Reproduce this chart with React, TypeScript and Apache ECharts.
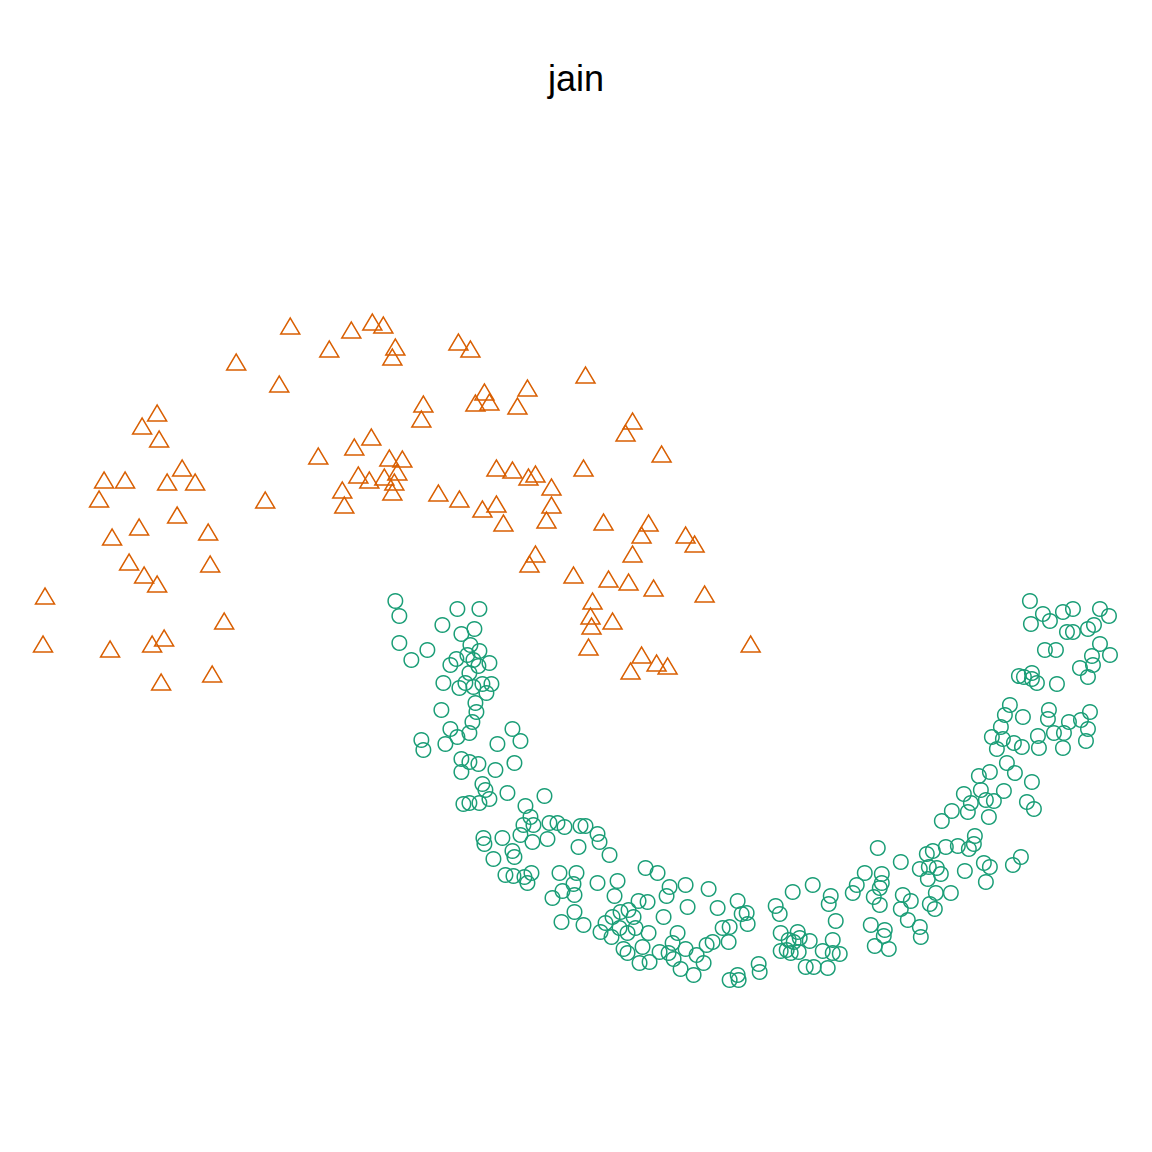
import React, { useEffect, useRef } from "react";
import * as echarts from "echarts";

const titleText = "jain";

// cluster 2 (triangles)
const cluster2: [number, number][] = [
  [29.0, 67.4], [23.6, 63.8], [27.9, 61.6], [15.7, 58.7], [14.2, 57.4], [15.9, 56.1], [18.2, 53.2],
  [10.4, 52.0], [12.5, 52.0], [16.7, 51.8], [19.5, 51.8], [9.9, 50.1], [26.5, 50.0], [17.7, 48.5],
  [13.9, 47.3], [11.2, 46.3], [20.8, 46.8], [31.8, 54.4], [32.9, 65.1], [35.1, 67.0], [37.2, 67.8],
  [38.3, 67.5], [39.5, 65.3], [39.2, 64.3], [45.8, 65.8], [47.0, 65.1], [58.5, 62.5], [48.4, 60.8],
  [52.7, 61.2], [47.5, 59.7], [48.9, 59.8], [51.7, 59.4], [42.3, 59.6], [42.1, 58.1], [37.1, 56.3],
  [35.4, 55.3], [38.9, 54.2], [40.2, 54.1], [35.8, 52.5], [36.9, 52.0], [38.4, 52.3], [39.7, 52.8],
  [39.4, 51.8], [39.2, 50.8], [34.2, 51.0], [34.4, 49.5], [43.8, 50.7], [45.9, 50.1], [48.2, 49.1],
  [49.6, 49.6], [50.3, 47.7], [49.6, 53.2], [51.2, 53.0], [52.8, 52.3], [53.5, 52.6], [55.1, 51.3],
  [55.1, 49.5], [54.6, 48.0], [58.3, 53.2], [63.2, 57.9], [62.5, 56.7], [66.1, 54.6], [60.3, 47.8],
  [64.8, 47.7], [64.1, 46.5], [68.5, 46.5], [69.4, 45.6], [63.2, 44.6], [60.8, 42.1], [62.8, 41.8],
  [65.3, 41.2], [70.4, 40.6], [57.3, 42.5], [59.2, 39.9], [59.0, 38.4], [59.1, 37.4], [61.2, 37.9],
  [58.8, 35.3], [64.1, 34.5], [65.6, 33.7], [66.7, 33.4], [63.0, 32.9], [75.0, 35.6], [12.9, 43.8],
  [14.4, 42.5], [15.7, 41.6], [21.0, 43.6], [4.5, 40.4], [22.4, 37.9], [4.3, 35.6], [11.0, 35.1],
  [15.2, 35.6], [16.4, 36.2], [21.2, 32.6], [16.1, 31.8], [53.5, 44.6], [52.9, 43.6],
];

// cluster 1 (circles)
const cluster1: [number, number][] = [
  [39.5, 39.9], [39.9, 38.4], [45.7, 39.1], [47.9, 39.1], [44.2, 37.5], [47.4, 37.1], [46.1, 36.6],
  [39.9, 35.7], [42.7, 35.0], [41.1, 34.0], [47.0, 35.5], [47.9, 34.9], [45.6, 34.1], [45.0, 33.5],
  [46.7, 34.5], [47.3, 34.0], [47.8, 33.4], [48.9, 33.7], [46.9, 32.7], [44.3, 31.7], [46.5, 31.7],
  [45.9, 31.2], [47.3, 31.3], [48.2, 31.6], [49.1, 31.6], [48.6, 30.7], [47.5, 29.7], [47.6, 28.8],
  [44.1, 29.0], [47.2, 27.8], [45.0, 27.1], [45.7, 26.3], [46.9, 26.7], [44.5, 25.6], [42.1, 26.0],
  [42.3, 25.0], [49.7, 25.6], [51.2, 27.1], [52.0, 25.9], [51.4, 23.7], [46.1, 24.1], [46.9, 23.8],
  [47.8, 23.6], [46.1, 22.8], [49.5, 23.0], [48.2, 21.6], [48.5, 21.0], [48.9, 20.1], [47.9, 19.7],
  [46.9, 19.7], [46.3, 19.6], [50.7, 20.7], [54.4, 20.4], [52.5, 19.4], [53.0, 18.3], [52.3, 17.5],
  [53.3, 17.5], [52.0, 16.5], [53.2, 15.8], [54.7, 16.1], [54.9, 17.7], [55.7, 17.7], [56.4, 17.3],
  [58.0, 17.4], [58.5, 17.4], [50.2, 16.2], [48.3, 16.2], [48.4, 15.6], [51.2, 14.9], [51.4, 14.3],
  [49.3, 14.1], [57.8, 15.3], [50.5, 12.5], [51.3, 12.4], [52.4, 12.3], [53.1, 12.7], [52.7, 11.7],
  [55.9, 12.7], [57.6, 12.7], [57.3, 11.6], [56.2, 10.9], [57.4, 10.5], [55.2, 10.2], [57.4, 8.8],
  [56.1, 7.8], [58.3, 7.5], [59.7, 16.6], [59.9, 15.8], [60.9, 14.5], [59.7, 11.7], [61.7, 11.9],
  [61.4, 10.4], [64.5, 13.2], [65.7, 12.7], [66.9, 11.3], [68.5, 11.5], [66.6, 10.4], [70.8, 11.1],
  [63.8, 9.9], [64.7, 9.8], [68.7, 9.3], [71.7, 9.2], [73.7, 9.9], [74.1, 8.6], [74.6, 8.7],
  [74.7, 7.6], [66.3, 8.3], [62.0, 8.8], [62.8, 9.0], [61.2, 8.3], [60.5, 7.7], [60.0, 6.8],
  [61.1, 6.3], [61.9, 7.2], [62.7, 6.7], [63.5, 7.2], [63.3, 8.3], [64.8, 6.7], [67.7, 6.7],
  [72.2, 7.2], [72.9, 7.3], [72.8, 5.8], [70.6, 5.5], [71.2, 5.8], [62.3, 5.1], [62.7, 4.7],
  [64.2, 5.3], [65.9, 4.8], [66.8, 4.7], [67.2, 5.7], [68.5, 5.1], [69.6, 4.5], [63.9, 3.7],
  [64.9, 3.8], [67.3, 4.1], [68.0, 3.1], [69.3, 2.5], [70.3, 3.7], [72.9, 2.0], [73.7, 2.5],
  [73.8, 2.0], [75.8, 3.6], [75.9, 2.8], [77.5, 9.4], [77.9, 8.6], [79.2, 10.8], [81.2, 11.5],
  [83.0, 10.4], [82.8, 9.6], [83.5, 7.9], [78.0, 6.7], [78.8, 6.0], [78.6, 5.0], [79.7, 6.8],
  [79.9, 6.2], [79.3, 5.8], [80.9, 5.9], [79.0, 4.7], [79.8, 4.8], [78.0, 4.9], [83.2, 6.0],
  [82.2, 4.9], [83.2, 4.7], [83.9, 4.6], [80.5, 3.3], [81.3, 3.3], [82.7, 3.2], [85.2, 10.7],
  [85.6, 11.5], [86.4, 12.7], [100.6, 23.7], [101.4, 22.7], [98.9, 22.8], [97.8, 22.4], [103.1, 21.8],
  [96.3, 20.6], [98.0, 21.0], [100.3, 20.9], [97.0, 19.7], [96.7, 18.8], [98.5, 20.0], [99.3, 19.9],
  [102.6, 19.8], [103.3, 19.1], [98.8, 18.3], [95.1, 18.9], [94.1, 17.9], [87.7, 15.2], [90.0, 13.8],
  [97.4, 16.4], [97.3, 15.6], [96.8, 15.1], [95.7, 15.4], [94.5, 15.3], [93.2, 14.9], [92.6, 14.6],
  [98.3, 13.7], [98.9, 13.3], [98.5, 11.8], [101.2, 13.5], [102.0, 14.3], [96.4, 12.9], [91.9, 13.1],
  [92.8, 13.3], [93.6, 13.2], [94.0, 12.6], [92.7, 12.1], [88.1, 12.6], [88.1, 11.7], [87.9, 11.2],
  [87.3, 10.3], [87.9, 9.5], [90.2, 10.5], [91.0, 9.9], [93.5, 10.7], [95.0, 10.7], [92.9, 9.6],
  [93.4, 9.1], [90.0, 9.1], [90.7, 8.0], [87.0, 7.5], [88.4, 7.0], [88.3, 6.4], [87.4, 5.4],
  [88.8, 5.1], [91.9, 7.3], [92.0, 6.3], [102.9, 39.9], [104.2, 38.6], [104.9, 37.9], [103.0, 37.6],
  [106.2, 38.8], [107.2, 39.1], [109.9, 39.1], [110.8, 38.4], [106.6, 36.8], [107.2, 36.8], [108.7, 37.1],
  [109.3, 37.5], [109.9, 35.6], [110.9, 34.5], [104.4, 35.0], [105.5, 35.0], [109.1, 34.4], [107.9, 33.2],
  [109.2, 33.5], [108.7, 32.3], [101.8, 32.4], [102.3, 32.3], [103.1, 32.7], [103.1, 32.1], [103.6, 31.7],
  [105.6, 31.6], [100.9, 29.5], [100.4, 28.5], [102.2, 28.3], [104.8, 29.0], [104.7, 28.1], [106.8, 27.8],
  [108.0, 28.0], [108.9, 28.8], [108.7, 27.1], [108.5, 25.9], [100.0, 27.3], [99.1, 26.3], [100.2, 26.1],
  [101.3, 25.7], [102.1, 25.3], [103.7, 26.4], [103.8, 25.2], [105.3, 26.7], [106.3, 26.7], [106.2, 25.2],
  [99.6, 25.1],
];

const xRange = [2, 113.2];
const yRange = [-0.2, 71];

const GREEN = "#1B9E77";
const ORANGE = "#D95F02";

export default function App() {
  const ref = useRef<HTMLDivElement>(null);
  useEffect(() => {
    if (!ref.current) return;
    const chart = echarts.init(ref.current, null, { renderer: "svg" });
    chart.setOption({
      animation: false,
      backgroundColor: "#ffffff",
      title: {
        text: titleText,
        left: "center",
        top: 55,
        textStyle: {
          fontFamily: "Liberation Sans, Arial, sans-serif",
          fontSize: 36,
          fontWeight: "normal",
          color: "#000000",
        },
      },
      grid: { left: 20, right: 19, top: 290, bottom: 150, containLabel: false },
      xAxis: { type: "value", min: xRange[0], max: xRange[1], show: false },
      yAxis: { type: "value", min: yRange[0], max: yRange[1], show: false },
      series: [
        {
          type: "scatter",
          data: cluster1,
          symbol: "circle",
          symbolSize: 14.5,
          itemStyle: { color: "rgba(0,0,0,0)", borderColor: GREEN, borderWidth: 1.5, opacity: 1 },
          emphasis: { disabled: true },
        },
        {
          type: "scatter",
          data: cluster2,
          symbol: "triangle",
          symbolSize: [19, 16],
          itemStyle: { color: "rgba(0,0,0,0)", borderColor: ORANGE, borderWidth: 1.5, opacity: 1 },
          emphasis: { disabled: true },
        },
      ],
    });
    return () => chart.dispose();
  }, []);
  return (
    <div
      ref={ref}
      style={{ position: "fixed", left: 0, top: 0, width: 1152, height: 1152, background: "#fff" }}
    />
  );
}
